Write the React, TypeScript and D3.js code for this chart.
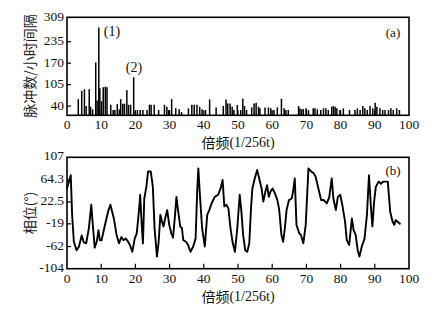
import React from "react";
import * as d3 from "d3";

// ---- data ----
const barX = [3.3, 4.3, 5.1, 5.6, 6.5, 6.9, 7.5, 8.4, 8.8, 9.3, 9.6, 10.1, 10.6, 11.2, 11.7, 12.8, 13.5, 14.0, 14.7, 15.3, 15.7, 16.3, 16.8, 17.5, 18.0, 18.6, 19.5, 20.0, 20.6, 21.4, 22.2, 23.4, 24.1, 24.6, 25.5, 26.8, 28.5, 29.2, 29.7, 30.6, 31.8, 32.8, 33.5, 35.5, 36.5, 37.2, 38.0, 38.8, 39.5, 40.5, 41.7, 43.6, 45.7, 46.5, 47.0, 47.7, 48.3, 48.8, 49.8, 50.8, 51.4, 51.9, 52.5, 54.0, 54.7, 55.3, 56.0, 56.4, 57.9, 58.9, 59.6, 60.5, 61.5, 62.7, 63.5, 64.0, 64.7, 67.7, 68.1, 68.6, 69.1, 69.9, 70.6, 72.0, 72.5, 73.2, 74.2, 75.0, 75.7, 76.4, 77.4, 77.9, 78.4, 78.9, 79.8, 80.8, 82.6, 84.2, 84.9, 85.7, 86.5, 87.1, 87.8, 88.6, 89.4, 90.1, 90.6, 91.5, 92.3, 93.0, 94.0, 94.7, 95.4, 96.4, 97.2];
const barV = [61, 86, 91, 40, 91, 38, 30, 172, 57, 278, 94, 55, 97, 99, 97, 44, 28, 28, 46, 30, 61, 47, 47, 88, 44, 44, 127, 26, 28, 28, 28, 28, 44, 44, 44, 28, 44, 38, 28, 61, 33, 30, 22, 33, 44, 44, 44, 38, 30, 28, 60, 36, 40, 60, 48, 48, 38, 28, 43, 28, 62, 40, 28, 36, 48, 50, 38, 33, 36, 36, 33, 28, 36, 62, 33, 28, 28, 40, 33, 30, 31, 33, 28, 33, 33, 30, 28, 33, 33, 28, 38, 40, 38, 33, 28, 33, 28, 28, 33, 28, 40, 33, 28, 40, 33, 50, 38, 33, 28, 28, 28, 33, 28, 33, 28];

const phaseX = [0, 1.1, 1.5, 2.0, 2.8, 3.5, 4.3, 4.9, 5.6, 6.4, 7.1, 7.4, 8.1, 8.7, 9.2, 9.6, 10.1, 11.0, 12.0, 12.7, 13.7, 14.5, 15.2, 15.9, 16.5, 17.2, 17.8, 18.4, 19.1, 19.8, 20.4, 21.1, 21.4, 21.8, 22.2, 22.6, 23.2, 23.7, 24.5, 25.1, 25.6, 26.3, 26.8, 27.3, 27.8, 28.2, 28.7, 29.3, 29.9, 30.5, 31.0, 31.5, 32.0, 32.4, 33.1, 33.6, 34.0, 34.8, 35.4, 36.1, 36.9, 37.6, 38.1, 38.4, 38.8, 39.5, 40.3, 41.0, 41.6, 42.3, 43.2, 44.2, 44.9, 45.5, 46.0, 46.6, 47.2, 47.8, 48.4, 49.1, 49.8, 50.5, 51.0, 51.5, 52.1, 52.7, 53.3, 53.8, 54.2, 54.9, 55.6, 56.2, 56.9, 57.4, 58.0, 58.5, 59.0, 59.5, 60.1, 60.8, 61.5, 62.0, 62.7, 63.2, 63.7, 64.2, 64.9, 65.7, 66.1, 66.6, 67.1, 67.9, 68.4, 69.1, 69.8, 70.6, 71.4, 72.1, 72.7, 73.5, 74.3, 75.0, 76.0, 76.7, 77.4, 77.9, 78.6, 79.2, 79.9, 80.5, 81.3, 81.8, 82.5, 83.3, 83.8, 84.4, 85.0, 85.5, 86.2, 87.0, 87.7, 88.3, 88.9, 89.3, 89.8, 90.3, 91.1, 91.8, 92.5, 93.2, 93.8, 94.5, 95.2, 95.7, 96.1, 96.7, 97.5];
const phaseV = [48, 73, -2, -53, -69, -62, -41, -54, -56, -27, 17, -9, -64, -53, -31, -50, -50, -24, 4, 17, -9, -40, -56, -44, -50, -47, -52, -59, -72, -47, -37, 10, 36, -15, -56, 29, 51, 80, 80, 51, -27, -81, -53, -2, -15, -24, -9, 7, -21, -37, -45, -9, 32, 10, -24, -27, -50, -53, -59, -72, -62, -47, 48, 86, 42, -27, -62, -2, 7, 20, 32, 36, 48, 64, 14, 17, 10, -27, -53, -72, -27, 36, 4, -40, -69, -72, -56, 10, 48, 67, 83, 67, 48, 23, 42, 54, 32, 42, 48, 39, 26, 10, -40, -53, -27, 7, 26, 29, 42, 67, -21, -37, -40, -56, -21, 86, 80, 77, 70, 48, 26, 26, 20, 32, 67, 29, 7, 32, 36, 17, -15, -50, -59, -9, -31, -40, -69, -81, -62, -47, -2, 73, 10, -24, 23, 51, 61, 57, 61, 61, 61, 4, -15, -21, -12, -15, -20];

const xTicks = [0, 10, 20, 30, 40, 50, 60, 70, 80, 90, 100];
const topYTicks = [40, 105, 170, 235, 309];
const botYTicks = [-104, -62, -19, 22.5, 64.3, 107];
const xTitle = "倍频(1/256t)";
const topYTitle = "脉冲数/小时间隔";
const botYTitle = "相位(°)";

const serif = "'Liberation Serif', 'DejaVu Serif', serif";
const cjk = "'Noto Sans CJK SC', sans-serif";

export default function App() {
  const left = 67, right = 409;
  const topPanel = { top: 17.3, bottom: 115.3 };
  const botPanel = { top: 157.3, bottom: 268.7 };

  const x = d3.scaleLinear().domain([0, 100]).range([left, right]);
  const yTop = d3.scaleLinear().domain([12, 309]).range([topPanel.bottom, topPanel.top]);
  const yBot = d3.scaleLinear().domain([-104, 107]).range([botPanel.bottom, botPanel.top]);

  const line = d3
    .line<number>()
    .x((_, i) => x(phaseX[i]))
    .y((d) => yBot(d));

  const xAxis = (p: { top: number; bottom: number }, key: string) => (
    <g key={key}>
      {xTicks.map((t) => (
        <g key={t}>
          {t > 0 && t < 100 && (
            <line x1={x(t)} x2={x(t)} y1={p.bottom} y2={p.bottom - 5} stroke="#000" strokeWidth={1.2} />
          )}
          <text x={x(t)} y={p.bottom + 14} textAnchor="middle" fontFamily={serif} fontSize={13.5} fill="#111">
            {t}
          </text>
        </g>
      ))}
      <text x={238} y={p.bottom + 27} textAnchor="middle" dominantBaseline="central" fontSize={14} fill="#111">
        <tspan fontFamily={cjk}>{xTitle.slice(0, 2)}</tspan>
        <tspan fontFamily={serif}>{xTitle.slice(2)}</tspan>
      </text>
    </g>
  );

  return (
    <svg width={435} height={313} style={{ position: "absolute", left: 0, top: 0, background: "#fff" }}>
      {/* Panel (a) */}
      <g>
        {barX.map((bx, i) => (
          <line
            key={i}
            x1={x(bx)}
            x2={x(bx)}
            y1={topPanel.bottom}
            y2={yTop(barV[i])}
            stroke="#000"
            strokeWidth={1.5}
          />
        ))}
        {topYTicks.map((t) => (
          <g key={t}>
            {t < 309 && <line x1={left} x2={left + 4} y1={yTop(t)} y2={yTop(t)} stroke="#000" strokeWidth={1.2} />}
            <text x={64} y={yTop(t) - 1} textAnchor="end" dominantBaseline="central" fontFamily={serif} fontSize={13.5} fill="#111">
              {t}
            </text>
          </g>
        ))}
        <rect x={left} y={topPanel.top} width={right - left} height={topPanel.bottom - topPanel.top} fill="none" stroke="#000" strokeWidth={1.6} />
        {xAxis(topPanel, "ax1")}
        <text x={29} y={66} transform="rotate(-90 29 66)" textAnchor="middle" dominantBaseline="central" fontFamily={cjk} fontSize={14} fill="#222">
          {topYTitle}
        </text>
        <text x={393} y={32} textAnchor="middle" dominantBaseline="central" fontFamily={serif} fontSize={13} fill="#111">(a)</text>
        <text x={112} y={31} textAnchor="middle" dominantBaseline="central" fontFamily={serif} fontSize={14} fill="#111">(1)</text>
        <text x={134} y={67} textAnchor="middle" dominantBaseline="central" fontFamily={serif} fontSize={14} fill="#111">(2)</text>
      </g>

      {/* Panel (b) */}
      <g>
        <path d={line(phaseV) || ""} fill="none" stroke="#000" strokeWidth={1.9} strokeLinejoin="round" />
        {botYTicks.map((t) => (
          <g key={t}>
            {t > -104 && t < 107 && <line x1={left} x2={left + 4} y1={yBot(t)} y2={yBot(t)} stroke="#000" strokeWidth={1.2} />}
            <text x={64} y={yBot(t) - 1.5} textAnchor="end" dominantBaseline="central" fontFamily={serif} fontSize={13.5} fill="#111">
              {t}
            </text>
          </g>
        ))}
        <rect x={left} y={botPanel.top} width={right - left} height={botPanel.bottom - botPanel.top} fill="none" stroke="#000" strokeWidth={1.6} />
        {xAxis(botPanel, "ax2")}
        <text x={29} y={213} transform="rotate(-90 29 213)" textAnchor="middle" dominantBaseline="central" fontFamily={cjk} fontSize={14} fill="#222">
          {botYTitle}
        </text>
        <text x={393} y={170} textAnchor="middle" dominantBaseline="central" fontFamily={serif} fontSize={13} fill="#111">(b)</text>
      </g>
    </svg>
  );
}
